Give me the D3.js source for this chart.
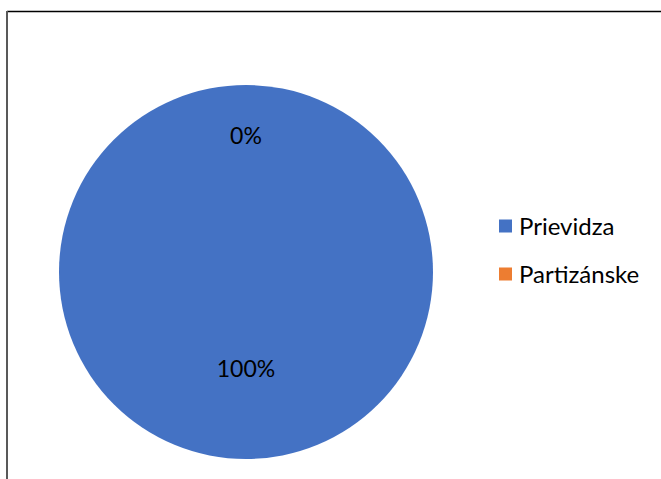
<!DOCTYPE html>
<html>
<head>
<meta charset="utf-8">
<script src="https://cdn.jsdelivr.net/npm/d3@7"></script>
<style>
  body { margin: 0; background: #fff; }
  svg { display: block; font-family: Lato, "Noto Sans", sans-serif; }
</style>
</head>
<body>
<svg id="chart" width="661" height="479"></svg>
<script>
const categories = ["Prievidza", "Partizánske"]
const values = [100, 0]
const colors = ["#4472C4", "#ED7D31"]
// where Excel put each data label, as a fraction of the radius
const labelRadius = [0.52, 0.73]

const WIDTH = 661
const HEIGHT = 479
const cx = 246, cy = 272, r = 187

const svg = d3.select("#chart")

svg.append("rect")
  .attr("width", WIDTH)
  .attr("height", HEIGHT)
  .attr("fill", "#fff")

// frame (only top and left are in view)
svg.append("line")
  .attr("x1", 7).attr("x2", WIDTH)
  .attr("y1", 11.5).attr("y2", 11.5)
  .attr("stroke", "#000").attr("stroke-width", 1.5)
svg.append("line")
  .attr("x1", 7).attr("x2", 7)
  .attr("y1", 11).attr("y2", HEIGHT)
  .attr("stroke", "#595959").attr("stroke-width", 2)

const data = categories.map((c, i) => ({ name: c, value: values[i], color: colors[i], lr: labelRadius[i] }))
const total = d3.sum(values)

const pie = d3.pie().sort(null).value(d => d.value)
const arcs = pie(data)
const arc = d3.arc().innerRadius(0).outerRadius(r)

const g = svg.append("g").attr("transform", "translate(" + cx + "," + cy + ")")

g.selectAll("path.slice")
  .data(arcs)
  .enter().append("path")
  .attr("class", "slice")
  .attr("d", arc)
  .attr("fill", d => d.data.color)

g.selectAll("text.label")
  .data(arcs)
  .enter().append("text")
  .attr("class", "label")
  .attr("transform", d => {
    const la = d3.arc().innerRadius(r * d.data.lr).outerRadius(r * d.data.lr)
    const c = la.centroid(d)
    return "translate(" + c[0] + "," + c[1] + ")"
  })
  .attr("text-anchor", "middle")
  .attr("dy", "0.35em")
  .attr("font-size", 23)
  .attr("fill", "#000")
  .text(d => d3.format(".0%")(d.data.value / total))

// legend
const legendY = d3.scalePoint().domain(categories).range([226, 274])
const legend = svg.append("g")
legend.selectAll("rect")
  .data(data)
  .enter().append("rect")
  .attr("x", 499)
  .attr("y", d => legendY(d.name) - 6.5)
  .attr("width", 13)
  .attr("height", 13)
  .attr("fill", d => d.color)
legend.selectAll("text")
  .data(data)
  .enter().append("text")
  .attr("x", 519)
  .attr("y", d => legendY(d.name))
  .attr("dy", "0.36em")
  .attr("font-size", 24)
  .attr("fill", "#000")
  .text(d => d.name)
</script>
</body>
</html>
